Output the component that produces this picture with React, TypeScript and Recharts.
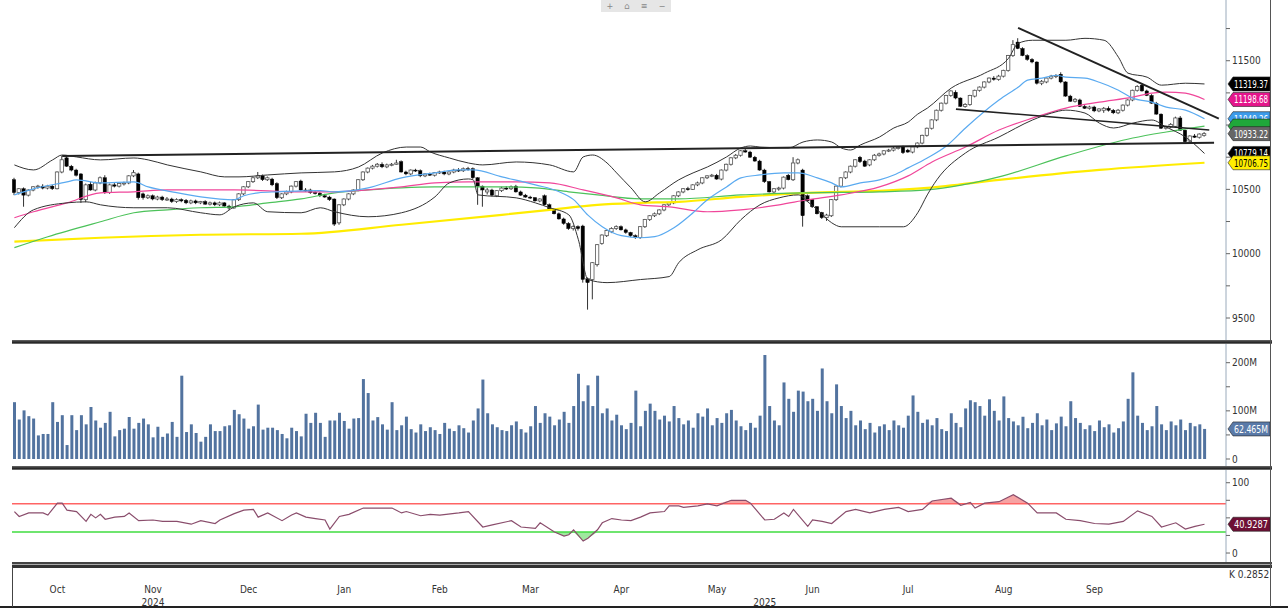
import React from "react";
import { ComposedChart, Bar, Line, Area, XAxis, YAxis, ReferenceLine } from "recharts";

const FONT = '"Liberation Sans Narrow", "DejaVu Sans Condensed", "Liberation Sans", Arial, sans-serif';
const SLOTS = 254;

// daily candles [open, high, low, close]
const candles: number[][] = [
  [10575,10590,10455,10475],[10475,10510,10460,10505],[10505,10515,10365,10455],[10455,10500,10445,10495],[10495,10525,10485,10520],[10520,10535,10505,10525],[10525,10540,10500,10510],[10510,10535,10500,10525],[10525,10535,10495,10505],[10505,10640,10500,10635],
  [10635,10760,10625,10730],[10745,10765,10675,10680],[10680,10690,10640,10650],[10650,10660,10600,10610],[10620,10625,10395,10420],[10420,10545,10400,10535],[10540,10560,10490,10495],[10495,10560,10485,10550],[10550,10600,10540,10590],[10590,10610,10465,10475],
  [10475,10545,10465,10535],[10535,10550,10515,10525],[10525,10550,10515,10545],[10545,10560,10530,10550],[10550,10610,10540,10605],[10605,10650,10595,10630],[10620,10630,10420,10435],[10465,10475,10420,10435],[10435,10460,10425,10450],[10450,10460,10415,10425],
  [10425,10450,10415,10440],[10440,10450,10410,10420],[10420,10440,10410,10425],[10425,10435,10395,10405],[10405,10430,10395,10420],[10420,10430,10400,10410],[10415,10425,10385,10395],[10395,10420,10385,10410],[10410,10420,10385,10395],[10395,10410,10385,10405],
  [10405,10415,10380,10385],[10385,10405,10375,10395],[10395,10405,10370,10380],[10380,10405,10370,10395],[10395,10400,10365,10370],[10370,10380,10340,10355],[10355,10425,10350,10420],[10420,10470,10410,10465],[10465,10525,10455,10520],[10520,10565,10510,10560],
  [10560,10600,10550,10590],[10590,10635,10580,10605],[10605,10615,10565,10575],[10575,10600,10565,10590],[10580,10590,10525,10535],[10545,10555,10425,10435],[10435,10470,10425,10465],[10465,10490,10455,10480],[10480,10530,10470,10525],[10525,10565,10515,10560],
  [10565,10575,10490,10495],[10495,10510,10480,10490],[10495,10505,10465,10475],[10475,10490,10460,10470],[10470,10480,10440,10450],[10450,10465,10435,10440],[10440,10450,10410,10420],[10425,10430,10215,10230],[10240,10385,10225,10380],[10380,10430,10370,10425],
  [10425,10470,10415,10465],[10465,10500,10455,10495],[10495,10580,10485,10575],[10575,10640,10565,10635],[10635,10670,10625,10665],[10665,10690,10655,10680],[10680,10705,10670,10695],[10695,10710,10665,10675],[10675,10700,10665,10690],[10690,10705,10680,10695],
  [10695,10730,10690,10705],[10715,10725,10630,10635],[10635,10645,10610,10620],[10620,10655,10610,10650],[10650,10660,10635,10645],[10645,10655,10595,10605],[10605,10625,10595,10620],[10620,10630,10605,10610],[10610,10635,10600,10630],[10630,10645,10620,10635],
  [10635,10645,10610,10620],[10620,10640,10610,10635],[10635,10660,10625,10650],[10650,10665,10635,10645],[10645,10670,10635,10660],[10660,10675,10645,10655],[10660,10670,10580,10590],[10590,10595,10380,10525],[10525,10530,10365,10495],[10480,10510,10460,10495],
  [10495,10505,10445,10455],[10450,10495,10440,10490],[10490,10520,10480,10510],[10510,10525,10495,10505],[10505,10530,10495,10520],[10525,10535,10475,10480],[10480,10490,10450,10455],[10455,10465,10435,10440],[10440,10450,10425,10435],[10435,10440,10405,10410],
  [10410,10430,10400,10425],[10450,10460,10375,10380],[10380,10390,10335,10340],[10340,10350,10305,10310],[10310,10320,10265,10270],[10270,10280,10225,10235],[10235,10245,10185,10195],[10195,10220,10180,10210],[10210,10220,10180,10195],[10215,10225,9775,9800],
  [9805,9815,9565,9775],[9800,9935,9645,9930],[9915,10075,9900,10070],[10080,10150,10070,10145],[10140,10185,10130,10180],[10170,10205,10160,10195],[10195,10220,10185,10210],[10210,10220,10180,10185],[10185,10195,10155,10165],[10165,10170,10130,10140],
  [10140,10150,10115,10125],[10125,10215,10115,10210],[10210,10270,10200,10265],[10265,10300,10255,10295],[10295,10320,10285,10310],[10310,10345,10300,10340],[10340,10385,10330,10380],[10380,10400,10370,10395],[10395,10455,10385,10450],[10450,10485,10440,10480],
  [10480,10510,10470,10505],[10505,10520,10490,10500],[10500,10540,10495,10535],[10535,10560,10525,10550],[10550,10595,10540,10590],[10590,10610,10580,10605],[10605,10620,10595,10610],[10610,10620,10575,10580],[10580,10655,10570,10650],[10650,10700,10640,10695],
  [10695,10750,10685,10745],[10745,10775,10735,10765],[10765,10805,10755,10800],[10800,10815,10785,10790],[10790,10800,10745,10750],[10750,10760,10715,10720],[10720,10730,10645,10650],[10650,10660,10550,10560],[10560,10565,10475,10480],[10480,10510,10470,10505],
  [10505,10520,10490,10510],[10510,10600,10500,10595],[10610,10620,10570,10575],[10575,10750,10565,10705],[10705,10740,10695,10730],[10650,10660,10210,10295],[10450,10460,10405,10410],[10420,10425,10355,10365],[10365,10370,10305,10310],[10320,10325,10270,10280],
  [10280,10310,10255,10300],[10295,10425,10285,10420],[10420,10530,10410,10525],[10525,10595,10515,10590],[10590,10640,10580,10635],[10635,10685,10625,10680],[10680,10735,10670,10730],[10750,10760,10705,10715],[10720,10730,10675,10680],[10690,10735,10680,10730],
  [10730,10775,10720,10765],[10765,10785,10755,10775],[10775,10805,10765,10800],[10800,10815,10790,10805],[10805,10830,10795,10820],[10820,10835,10810,10825],[10830,10840,10775,10785],[10805,10815,10785,10790],[10790,10835,10780,10830],[10830,10865,10820,10860],
  [10860,10925,10850,10920],[10920,10980,10910,10975],[10975,11045,10965,11040],[11040,11120,11030,11115],[11115,11175,11105,11170],[11170,11235,11160,11230],[11230,11270,11220,11265],[11255,11270,11200,11210],[11210,11215,11140,11145],[11145,11170,11135,11160],
  [11160,11235,11150,11230],[11225,11275,11215,11270],[11270,11300,11260,11295],[11295,11340,11285,11335],[11335,11370,11325,11365],[11365,11380,11345,11355],[11355,11390,11345,11380],[11380,11430,11370,11425],[11425,11545,11415,11540],[11540,11660,11530,11625],
  [11645,11675,11590,11595],[11595,11605,11535,11540],[11540,11550,11500,11510],[11510,11520,11480,11490],[11490,11495,11315,11325],[11325,11350,11310,11340],[11335,11370,11325,11365],[11365,11390,11355,11380],[11380,11395,11365,11385],[11395,11410,11325,11335],
  [11335,11340,11220,11225],[11225,11235,11180,11185],[11185,11210,11175,11200],[11195,11205,11140,11145],[11145,11160,11125,11130],[11130,11150,11120,11140],[11140,11150,11100,11110],[11110,11130,11100,11125],[11115,11140,11095,11130],[11130,11145,11105,11115],
  [11115,11125,11085,11095],[11095,11125,11085,11115],[11115,11160,11105,11155],[11155,11200,11145,11195],[11195,11275,11185,11270],[11270,11310,11260,11300],[11310,11325,11260,11265],[11265,11275,11225,11230],[11230,11240,11165,11170],[11170,11180,11080,11085],
  [11085,11090,10970,10975],[10975,10995,10965,10985],[10985,11015,10975,11005],[10990,11065,10980,11055],[11055,11070,10955,10960],[10960,10965,10860,10870],[10875,10920,10865,10915],[10915,10930,10900,10905],[10905,10935,10895,10930],[10920,10945,10910,10933.22],
];

// indicator lines, [day, value]
const ma20 = [[0,10457],[4,10504],[11,10558],[13,10574],[18,10550],[25,10558],[28,10519],[33,10481],[39,10442],[46,10419],[48,10450],[51,10473],[55,10481],[60,10488],[64,10490],[67,10481],[74,10511],[81,10589],[88,10628],[93,10651],[96,10651],[102,10597],[109,10535],[114,10481],[117,10420],[120,10300],[123,10210],[127,10140],[131,10124],[134,10132],[138,10201],[142,10318],[145,10419],[149,10519],[152,10589],[156,10612],[161,10628],[164,10628],[168,10589],[171,10550],[173,10519],[177,10550],[181,10574],[184,10612],[187,10667],[191,10744],[195,10837],[199,10977],[206,11194],[210,11294],[212,11349],[215,11364],[218,11387],[220,11372],[224,11364],[227,11333],[231,11271],[234,11209],[238,11178],[241,11139],[245,11116],[249,11049.26]];
const ma50 = [[0,10279],[4,10326],[11,10395],[18,10473],[25,10481],[32,10496],[46,10496],[60,10481],[67,10481],[74,10496],[81,10519],[88,10550],[95,10558],[105,10558],[112,10550],[119,10496],[126,10434],[131,10380],[137,10364],[145,10326],[152,10341],[160,10380],[166,10419],[173,10457],[181,10519],[187,10605],[192,10713],[199,10829],[206,10961],[213,11054],[220,11132],[227,11178],[234,11217],[238,11248],[241,11256],[245,11248],[249,11198.68]];
const ma100 = [[0,10047],[7,10132],[18,10248],[25,10318],[32,10341],[39,10357],[46,10364],[53,10395],[60,10426],[67,10473],[74,10496],[81,10512],[88,10519],[102,10519],[109,10512],[116,10481],[122,10457],[131,10426],[139,10426],[152,10457],[166,10473],[181,10481],[191,10496],[206,10597],[220,10760],[234,10899],[241,10946],[249,10992]];
const ma200 = [[0,10093],[18,10124],[39,10147],[60,10155],[81,10225],[102,10302],[112,10341],[122,10380],[131,10395],[139,10403],[152,10442],[166,10473],[181,10488],[191,10511],[206,10574],[227,10651],[249,10706.75]];
const bbUpper = [[0,10690],[4,10651],[8,10729],[10,10767],[13,10752],[18,10729],[25,10744],[28,10729],[32,10690],[39,10636],[44,10597],[47,10597],[53,10612],[60,10628],[67,10636],[72,10674],[77,10783],[82,10829],[85,10829],[87,10791],[91,10744],[95,10705],[98,10690],[105,10713],[112,10690],[117,10636],[119,10752],[121,10767],[124,10705],[126,10628],[129,10512],[132,10403],[135,10473],[139,10574],[142,10628],[145,10674],[149,10752],[152,10822],[154,10837],[156,10829],[162,10822],[165,10868],[168,10884],[171,10868],[173,10822],[175,10806],[177,10845],[181,10907],[184,10977],[187,11023],[189,11085],[191,11131],[196,11287],[203,11403],[208,11519],[210,11635],[213,11659],[220,11659],[224,11674],[228,11659],[231,11527],[233,11403],[237,11372],[240,11310],[245,11325],[249,11319.37]];
const bbLower = [[0,10202],[4,10341],[11,10395],[15,10403],[18,10380],[25,10357],[32,10357],[39,10318],[43,10302],[46,10364],[50,10395],[53,10326],[60,10318],[64,10357],[67,10326],[74,10287],[81,10318],[88,10442],[91,10550],[95,10581],[96,10574],[97,10457],[105,10434],[109,10395],[112,10357],[116,10302],[118,10109],[120,9799],[124,9775],[131,9799],[137,9822],[139,9930],[143,10031],[148,10109],[152,10264],[156,10380],[160,10434],[164,10457],[166,10403],[168,10341],[171,10240],[173,10209],[181,10209],[186,10209],[189,10318],[191,10457],[193,10574],[199,10783],[206,10907],[213,11039],[217,11093],[220,11116],[224,11093],[227,11015],[230,10977],[234,11015],[238,11039],[241,10984],[245,10907],[249,10779.14]];

// drawn trendlines
const trendBase = [[10,10760],[251,10862]];
const trendTop = [[210,11755],[252,11050]];
const trendWedge = [[197,11124],[250,10961]];

// daily volume, millions
const volume = [
  118,82,101,89,84,49,52,52,118,77,91,29,91,60,91,72,108,80,65,75,
  98,47,60,63,87,63,75,84,72,45,67,46,53,77,46,173,56,72,54,36,
  46,72,58,58,68,70,102,93,84,63,68,113,61,65,65,60,52,43,65,58,
  47,94,75,96,75,46,80,80,96,79,63,84,85,166,137,80,87,72,61,118,
  60,70,88,62,55,72,58,66,60,52,75,63,58,70,64,55,80,105,165,95,
  72,66,60,58,70,78,62,55,68,110,75,95,88,70,82,98,75,110,177,120,
  153,110,173,95,105,80,92,70,62,75,142,68,100,115,100,82,90,78,110,85,
  72,80,65,95,88,105,70,85,75,95,102,80,68,60,75,65,90,216,110,80,
  70,159,125,98,142,140,120,125,100,188,120,95,155,110,85,100,70,80,62,75,
  55,68,72,60,80,70,65,90,132,98,75,82,70,85,62,58,95,75,66,105,
  122,118,110,90,124,100,80,130,85,78,70,88,64,75,95,70,82,60,74,88,
  68,120,85,75,62,70,58,80,66,72,55,64,78,125,180,90,75,60,68,110,
  72,60,78,70,82,60,75,68,72,62.465,
];

// RSI(14), [day, value]
const rsi = [[0,59],[1,52],[3,57],[6,57],[7,54],[9,71],[10,71],[11,61],[13,59],[15,45],[16,55],[17,50],[18,55],[19,48],[21,51],[23,52],[24,57],[26,46],[29,47],[31,45],[34,45],[37,41],[39,46],[42,42],[43,47],[46,56],[48,61],[50,62],[51,51],[53,57],[56,46],[58,54],[59,57],[61,51],[63,49],[65,47],[66,34],[68,52],[70,55],[73,64],[79,64],[81,57],[82,59],[85,53],[87,55],[89,54],[93,57],[95,59],[98,37],[100,40],[104,46],[106,37],[109,35],[110,43],[113,30],[115,24],[116,26],[117,33],[119,17],[120,21],[122,33],[123,43],[125,49],[127,47],[129,46],[131,51],[133,57],[136,59],[137,67],[139,67],[140,65],[143,67],[145,70],[147,67],[150,75],[153,75],[154,71],[157,47],[159,48],[161,57],[162,52],[163,62],[166,38],[167,47],[169,45],[171,42],[174,59],[176,62],[179,57],[182,62],[185,65],[187,59],[190,62],[192,74],[196,78],[198,68],[200,72],[201,64],[203,71],[206,73],[209,83],[212,71],[214,57],[218,57],[220,48],[223,46],[226,42],[229,41],[232,45],[235,60],[238,52],[240,37],[243,43],[245,34],[247,38],[249,40.9287]];

const monthTicks = [9, 29, 49, 69, 89, 108, 127, 147, 167, 187, 207, 226];
const monthNames = ["Oct", "Nov", "Dec", "Jan", "Feb", "Mar", "Apr", "May", "Jun", "Jul", "Aug", "Sep"];
const yearTicks = [29, 157];
const yearNames = ["2024", "2025"];

const priceTicks = [9500, 9750, 10000, 10250, 10500, 10750, 11000, 11250, 11500, 11750];
const priceLabels = [9500, 10000, 10500, 11500];

const lookup = (pairs: number[][]) => {
  const m: Record<number, number> = {};
  pairs.forEach(([i, v]) => { m[i] = v; });
  return m;
};
const lines = {
  ma20: lookup(ma20), ma50: lookup(ma50), ma100: lookup(ma100), ma200: lookup(ma200),
  bbU: lookup(bbUpper), bbL: lookup(bbLower),
  tBase: lookup(trendBase), tTop: lookup(trendTop), tWedge: lookup(trendWedge),
};

const priceRows = Array.from({ length: SLOTS }, (_, i) => {
  const k = candles[i];
  const row: any = { i };
  if (k) { row.o = k[0]; row.h = k[1]; row.l = k[2]; row.c = k[3]; row.range = [k[2], k[1]]; }
  Object.entries(lines).forEach(([key, m]) => { row[key] = m[i] ?? null; });
  return row;
});
const volRows = Array.from({ length: SLOTS }, (_, i) => ({ i, vol: volume[i] ?? null }));
const rsiRows = rsi.map(([i, v]) => ({ i, rsi: v, hi: Math.max(v, 70), lo: Math.min(v, 30) }));

const Candle = (props: any) => {
  const { x, y, width, height, payload } = props;
  if (!payload || payload.c == null) return null;
  const top = Math.min(y, y + height);
  const bot = Math.max(y, y + height);
  const span = payload.h - payload.l || 1;
  const py = (v: number) => top + ((payload.h - v) / span) * (bot - top);
  const cx = x + width / 2;
  const yo = py(payload.o), yc = py(payload.c);
  const up = payload.c >= payload.o;
  const bt = Math.min(yo, yc);
  const bh = Math.max(1, Math.abs(yc - yo));
  return (
    <g>
      <line x1={cx} x2={cx} y1={top} y2={bot} stroke="#333" strokeWidth={1} />
      <rect x={cx - 1.7} y={bt} width={3.4} height={bh} fill={up ? "#fff" : "#000"} stroke={up ? "#555" : "#000"} strokeWidth={up ? 0.8 : 0.4} />
    </g>
  );
};

// value flag at the right edge of a panel
const Flag = (props: any) => {
  const { viewBox, text, bg, fg } = props;
  if (!viewBox) return null;
  const x = viewBox.x + viewBox.width + 2;
  const y = viewBox.y;
  const w = 42, h = 14;
  return (
    <g>
      <path d={`M${x},${y} L${x + 5},${y - h / 2} L${x + w},${y - h / 2} L${x + w},${y + h / 2} L${x + 5},${y + h / 2} Z`} fill={bg} stroke="#222" strokeWidth={0.6} />
      {text && (
        <text x={x + 6} y={y + 4} fontSize={10.5} fontFamily={FONT} fill={fg || "#fff"}
          textLength={w - 8} lengthAdjust="spacingAndGlyphs">{text}</text>
      )}
    </g>
  );
};

const DateTick = (props: any) => {
  const { x, payload } = props;
  const mi = monthTicks.indexOf(payload.value);
  const yi = yearTicks.indexOf(payload.value);
  return (
    <g fontFamily={FONT} fontSize={10} fill="#333">
      {mi >= 0 && <text x={x} y={123} textAnchor="middle">{monthNames[mi]}</text>}
      {yi >= 0 && <text x={x} y={136} textAnchor="middle">{yearNames[yi]}</text>}
    </g>
  );
};

const tickStyle = { fontSize: 10, fill: "#333", fontFamily: FONT };
const axisLine = { stroke: "#9aaabb" };

const App = () => {
  const bar = (top: number, h: number, bg: string) => (
    <div style={{ position: "absolute", left: 12, top, width: 1260, height: h, background: bg }} />
  );
  return (
    <div style={{ position: "absolute", left: 0, top: 0, width: 1288, height: 610, background: "#fff", overflow: "hidden" }}>
      <div style={{ position: "absolute", left: 0, top: 0 }}>
        <ComposedChart width={1288} height={340} data={priceRows} margin={{ top: 0, right: 0, bottom: 0, left: 12 }}>
          <XAxis dataKey="i" hide />
          <YAxis orientation="right" width={62} domain={[9329, 11972]} ticks={priceTicks} interval={0}
            tickFormatter={(v: number) => (priceLabels.includes(v) ? String(v) : "")}
            tick={tickStyle} tickSize={4} tickMargin={2} axisLine={axisLine} tickLine={{ stroke: "#666" }} allowDataOverflow />
          <Line dataKey="ma200" stroke="#ffec00" strokeWidth={2.2} dot={false} connectNulls type="monotone" isAnimationActive={false} />
          <Line dataKey="ma100" stroke="#4cc25a" strokeWidth={1.2} dot={false} connectNulls type="monotone" isAnimationActive={false} />
          <Line dataKey="ma50" stroke="#f0469a" strokeWidth={1.2} dot={false} connectNulls type="monotone" isAnimationActive={false} />
          <Line dataKey="ma20" stroke="#5aaaf0" strokeWidth={1.2} dot={false} connectNulls type="monotone" isAnimationActive={false} />
          <Line dataKey="bbU" stroke="#333" strokeWidth={1} dot={false} connectNulls type="monotone" isAnimationActive={false} />
          <Line dataKey="bbL" stroke="#333" strokeWidth={1} dot={false} connectNulls type="monotone" isAnimationActive={false} />
          <Bar dataKey="range" shape={<Candle />} barSize={4} isAnimationActive={false} />
          <Line dataKey="tBase" stroke="#222" strokeWidth={2} dot={false} connectNulls type="linear" isAnimationActive={false} />
          <Line dataKey="tTop" stroke="#222" strokeWidth={2} dot={false} connectNulls type="linear" isAnimationActive={false} />
          <Line dataKey="tWedge" stroke="#222" strokeWidth={1.6} dot={false} connectNulls type="linear" isAnimationActive={false} />
          <ReferenceLine y={11319.37} stroke="none" label={<Flag text="11319.37" bg="#000" />} />
          <ReferenceLine y={11198.68} stroke="none" label={<Flag text="11198.68" bg="#e5168c" />} />
          <ReferenceLine y={11049.26} stroke="none" label={<Flag text="11049.26" bg="#3d9be9" />} />
          <ReferenceLine y={10992} stroke="none" label={<Flag bg="#1fa83a" />} />
          <ReferenceLine y={10933.22} stroke="none" label={<Flag text="10933.22" bg="#666" />} />
          <ReferenceLine y={10779.14} stroke="none" label={<Flag text="10779.14" bg="#000" />} />
          <ReferenceLine y={10706.75} stroke="none" label={<Flag text="10706.75" bg="#ffee00" fg="#000" />} />
        </ComposedChart>
      </div>

      <div style={{ position: "absolute", left: 0, top: 343 }}>
        <ComposedChart width={1288} height={124} data={volRows} margin={{ top: 0, right: 0, bottom: 0, left: 12 }}>
          <XAxis dataKey="i" hide />
          <YAxis orientation="right" width={62} domain={[-16.6, 240.9]} ticks={[0, 50, 100, 150, 200]} interval={0}
            tickFormatter={(v: number) => (v === 0 ? "0" : v === 100 ? "100M" : v === 200 ? "200M" : "")}
            tick={tickStyle} tickSize={4} tickMargin={2} axisLine={axisLine} tickLine={{ stroke: "#666" }} allowDataOverflow />
          <Bar dataKey="vol" fill="#52739f" barSize={3} isAnimationActive={false} />
          <ReferenceLine y={62.465} stroke="none" label={<Flag text="62.465M" bg="#5a7aa8" />} />
        </ComposedChart>
      </div>

      <div style={{ position: "absolute", left: 0, top: 470 }}>
        <ComposedChart width={1288} height={140} data={rsiRows} margin={{ top: 0, right: 0, bottom: 0, left: 12 }}>
          <XAxis dataKey="i" type="number" domain={[-0.5, SLOTS - 0.5]} ticks={[...monthTicks, 157]} interval={0}
            height={47} axisLine={false} tickLine={false} tick={<DateTick />} />
          <YAxis orientation="right" width={62} domain={[-14.2, 118.1]} ticks={[0, 25, 50, 75, 100]} interval={0}
            tickFormatter={(v: number) => (v === 0 || v === 100 ? String(v) : "")}
            tick={tickStyle} tickSize={4} tickMargin={2} axisLine={axisLine} tickLine={{ stroke: "#666" }} allowDataOverflow />
          <Area dataKey="hi" baseValue={70} fill="#f6a3a3" fillOpacity={1} stroke="none" type="linear" isAnimationActive={false} />
          <Area dataKey="lo" baseValue={30} fill="#9fe89f" fillOpacity={1} stroke="none" type="linear" isAnimationActive={false} />
          <ReferenceLine y={70} stroke="#ff6464" strokeWidth={1.5} />
          <ReferenceLine y={30} stroke="#3fdc3f" strokeWidth={1.5} />
          <Line dataKey="rsi" stroke="#8a4d6c" strokeWidth={1.2} dot={false} type="linear" isAnimationActive={false} />
          <ReferenceLine y={40.9287} stroke="none" label={<Flag text="40.9287" bg="#6e0f35" />} />
        </ComposedChart>
      </div>

      {bar(340, 4, "linear-gradient(#6a6a6a, #222 60%, #888)")}
      {bar(466, 4, "linear-gradient(#6a6a6a, #222 60%, #888)")}
      {bar(562, 6, "linear-gradient(#444 0, #444 33%, #aaa 33%, #aaa 50%, #333 50%, #333 100%)")}
      <div style={{ position: "absolute", left: 0, top: 606, width: 1288, height: 2, background: "#222" }} />
      <div style={{ position: "absolute", left: 12, top: 567, width: 1, height: 40, background: "#444" }} />
      <div style={{ position: "absolute", left: 1270, top: 0, width: 1, height: 607, background: "#555" }} />
      <div style={{ position: "absolute", left: 1229, top: 569, fontFamily: FONT, fontSize: 10, color: "#333" }}>K 0.2852</div>
      <div style={{ position: "absolute", left: 601, top: 0, width: 70, height: 12, background: "#e6e6e6", display: "flex", justifyContent: "space-around", alignItems: "center", fontFamily: FONT, fontSize: 9, color: "#888" }}>
        <span>+</span><span>⌂</span><span>≡</span><span>−</span>
      </div>
    </div>
  );
};

export default App;
